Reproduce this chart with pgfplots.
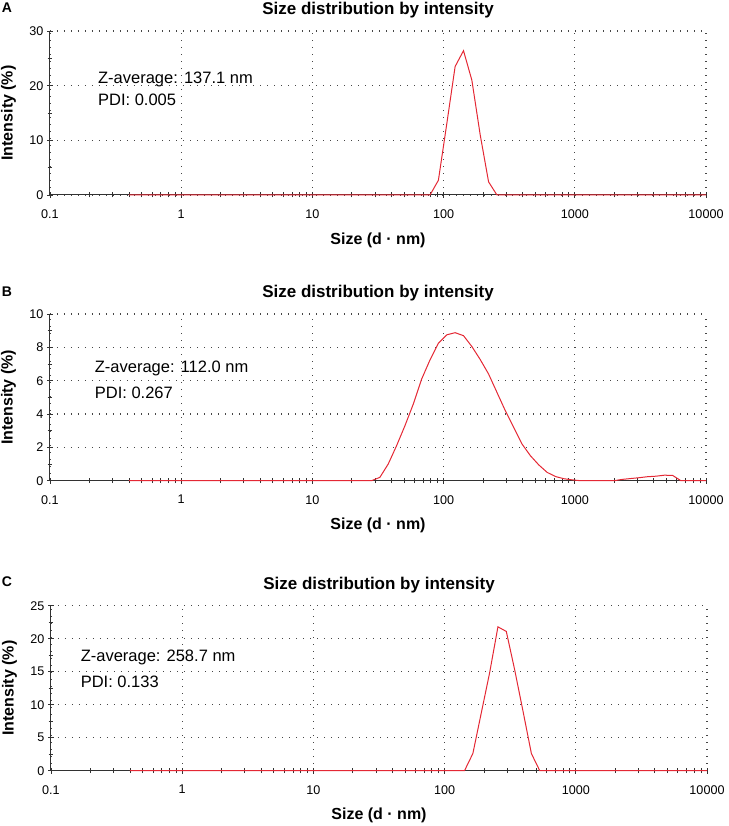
\documentclass[border=0pt]{standalone}
\usepackage{fontspec}
\setmainfont{Liberation Sans}
\usepackage{pgfplots}
\pgfplotsset{compat=1.18}
\usepackage{pgfplotstable}

\pgfplotstableread{
x y
0.4 0
78.82 0
91.28 2.7
105.7 13.0
122.4 23.5
141.8 26.4
164.2 21.0
190.1 11.0
220.2 2.4
255.0 0
10000 0
}\dataA

\pgfplotstableread{
x y
0.4 0
28.21 0
32.67 0.2
37.84 1.0
43.82 2.1
50.75 3.3
58.77 4.6
68.06 6.1
78.82 7.25
91.28 8.25
105.7 8.75
122.4 8.88
141.8 8.7
164.2 8.05
190.1 7.27
220.2 6.4
255.0 5.3
295.3 4.2
342.0 3.2
396.1 2.2
458.7 1.5
531.2 0.95
615.1 0.5
712.4 0.25
825.0 0.12
955.4 0.05
1106 0
1990 0
2305 0.08
2669 0.13
3091 0.18
3580 0.24
4145 0.27
4801 0.33
5560 0.32
6439 0
10000 0
}\dataB

\pgfplotstableread{
x y
0.4 0
141.8 0
164.2 2.6
190.1 8.7
220.2 14.8
255.0 21.8
295.3 21.1
342.0 15.3
396.1 9.0
458.7 2.6
531.2 0
10000 0
}\dataC

\definecolor{dlsred}{RGB}{228,40,52}
\definecolor{axgray}{RGB}{50,50,50}
\definecolor{gridgray}{RGB}{70,70,70}

\newcommand{\tickfont}{\fontsize{12.6}{15}\selectfont}
\newcommand{\labfont}{\bfseries\fontsize{16}{19}\selectfont}
\newcommand{\titfont}{\bfseries\fontsize{17}{20}\selectfont}
\newcommand{\annfont}{\fontsize{16.5}{19}\selectfont}

\pgfplotsset{every axis/.append style={
    scale only axis, width=656pt,
    clip=false,
    axis lines=left,
    axis line style={axgray, line width=1pt, -},
    grid=major,
    major grid style={gridgray, line width=1.3pt, dash pattern=on 1.2pt off 5.8pt},
    tick align=center,
    tick style={axgray, line width=0.9pt},
    major tick length=6pt, minor tick length=5pt,
    ticklabel style={font=\tickfont},
    xticklabel style={yshift=-8pt},
    title style={font=\titfont, at={(axis description cs:0.5,1)}, anchor=center, yshift=15pt},
    xlabel style={font=\labfont, at={(axis description cs:0.5,0)}, anchor=center, yshift=-45pt},
    ylabel style={font=\labfont, at={(axis description cs:-0.0633,0.5)}, anchor=center},
}}

\begin{document}
\begin{tikzpicture}
\useasboundingbox (0,0) rectangle (728pt,-826pt);

% Panel A
\begin{axis}[xmode=log, xmin=0.1, xmax=10000, ymin=0,
  xtick={0.1,1,10,100,1000,10000},
  xticklabels={0.1,1,10,100,1000,10000},
  minor y tick num=1,
  title={Size distribution by intensity},
  xlabel={Size (d · nm)}, ylabel={Intensity (\%)},
  at={(50pt,-195pt)}, anchor=south west, height=164pt,
  ymax=30, ytick={0,10,20,30}, yticklabels={0,10,20,30}]
  \addplot[dlsred, line width=1pt] table {\dataA};
  \node[anchor=west, font=\annfont] at (rel axis cs:0.068,0.705) {Z-average: 137.1 nm};
  \node[anchor=west, font=\annfont] at (rel axis cs:0.068,0.583) {PDI: 0.005};
\end{axis}

% Panel B
\begin{axis}[xmode=log, xmin=0.1, xmax=10000, ymin=0,
  xtick={0.1,1,10,100,1000,10000},
  xticklabels={0.1,1,10,100,1000,10000},
  minor y tick num=1,
  title={Size distribution by intensity},
  xlabel={Size (d · nm)}, ylabel={Intensity (\%)},
  at={(50pt,-480.7pt)}, anchor=south west, height=166.7pt,
  ymax=10, ytick={0,2,4,6,8,10}, yticklabels={0,2,4,6,8,10}]
  \addplot[dlsred, line width=1pt] table {\dataB};
  \node[anchor=west, font=\annfont] at (rel axis cs:0.063,0.676) {Z-average: 112.0 nm};
  \node[anchor=west, font=\annfont] at (rel axis cs:0.063,0.526) {PDI: 0.267};
\end{axis}

% Panel C
\begin{axis}[xmode=log, xmin=0.1, xmax=10000, ymin=0,
  xtick={0.1,1,10,100,1000,10000},
  xticklabels={0.1,1,10,100,1000,10000},
  minor y tick num=1,
  title={Size distribution by intensity},
  xlabel={Size (d · nm)}, ylabel={Intensity (\%)},
  at={(51pt,-770.7pt)}, anchor=south west, height=165pt,
  ymax=25, ytick={0,5,10,15,20,25}, yticklabels={0,5,10,15,20,25}]
  \addplot[dlsred, line width=1pt] table {\dataC};
  \node[anchor=west, font=\annfont] at (rel axis cs:0.040,0.685) {Z-average: 258.7 nm};
  \node[anchor=west, font=\annfont] at (rel axis cs:0.040,0.539) {PDI: 0.133};
\end{axis}

\node[font=\bfseries\fontsize{14}{16}\selectfont] at (7pt,-8pt) {A};
\node[font=\bfseries\fontsize{14}{16}\selectfont] at (7pt,-292pt) {B};
\node[font=\bfseries\fontsize{14}{16}\selectfont] at (7pt,-582pt) {C};
\end{tikzpicture}
\end{document}
